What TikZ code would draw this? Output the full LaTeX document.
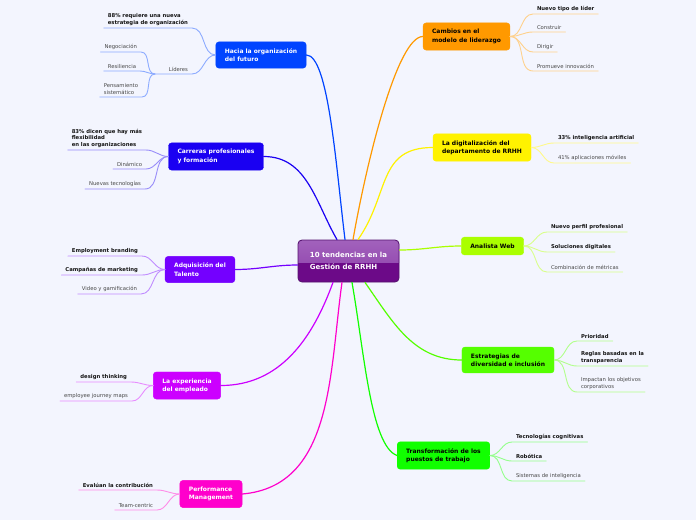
\documentclass[tikz,border=0pt]{standalone}
\usepackage{fontspec}
\setmainfont{DejaVu Sans}
\usepackage{tikz}
\usetikzlibrary{calc}
\usepackage{xcolor}
\definecolor{bg}{HTML}{F3F5FE}
\definecolor{C0}{HTML}{0044FF}
\definecolor{C1}{HTML}{1A00F2}
\definecolor{C2}{HTML}{7400FF}
\definecolor{C3}{HTML}{CC00FF}
\definecolor{C4}{HTML}{FF00CC}
\definecolor{C5}{HTML}{FF9900}
\definecolor{C6}{HTML}{FFF200}
\definecolor{C7}{HTML}{AAFF00}
\definecolor{C8}{HTML}{55FF00}
\definecolor{C9}{HTML}{11FF00}
\definecolor{RT}{HTML}{A262BC}
\definecolor{RM}{HTML}{8C3EAA}
\definecolor{RB}{HTML}{6C0A88}
\definecolor{RE}{HTML}{55136E}

\begin{document}
\begin{tikzpicture}[x=1pt,y=1pt,line cap=round]

\tikzset{
root/.style = {rounded corners=4pt, draw=RE, fill=RB, line width=0.8pt,
  minimum width=101pt, minimum height=42pt, text=white, align=left,
  font=\bfseries\fontsize{7}{12}\selectfont,
  path picture={\fill[sharp corners, top color=RT, bottom color=RM]
    (path picture bounding box.north west) rectangle ([yshift=-1pt]path picture bounding box.east);}},
topic/.style = {rounded corners=3pt, fill=#1, draw=#1, inner xsep=9pt, inner ysep=6.5pt,
  align=left, font=\bfseries\fontsize{6}{8.3}\selectfont},
leaf/.style = {inner xsep=4pt, inner ysep=2.5pt, outer sep=0pt, align=left,
  text=black!72, font=\fontsize{5.3}{6.5}\selectfont},
bleaf/.style = {leaf, text=black!92, font=\bfseries\fontsize{5.3}{6.5}\selectfont},
branch/.style = {line width=1.2pt, draw=#1},
twig/.style = {line width=0.9pt, draw=#1!45}
}

\fill[bg] (0,0) rectangle (696,-520);
\useasboundingbox (0,0) rectangle (696,-520);

% centre
\node (root) at (348.5,-261) [root] {10 tendencias en la\\Gestión de RRHH};

% left side
\node (hacia)       at (261,-55)    [topic=C0,text=white] {Hacia la organización\\del futuro};
\node (carreras)    at (216,-156.5) [topic=C1,text=white] {Carreras profesionales\\y formación};
\node (talento)     at (200,-269.5) [topic=C2,text=white] {Adquisición del\\Talento};
\node (experiencia) at (187,-385.5) [topic=C3,text=white] {La experiencia\\del empleado};
\node (performance) at (211,-494)   [topic=C4,text=white] {Performance\\Management};

% right side
\node (cambios)    at (466.5,-36.5) [topic=C5,text=black] {Cambios en el\\modelo de liderazgo};
\node (digital)    at (482,-147.5)  [topic=C6,text=black] {La digitalización del\\departamento de RRHH};
\node (web)        at (492.5,-246)  [topic=C7,text=black] {Analista Web};
\node (diversidad) at (508,-360)    [topic=C8,text=black] {Estrategias de\\diversidad e inclusión};
\node (puestos)    at (443.5,-455.5)[topic=C9,text=black] {Transformación de los\\puestos de trabajo};

\draw[branch=C0] ([xshift=-3.5pt]root.north) to [out=97,in=0,in looseness=0.3] (hacia.east);
\draw[branch=C1] ([xshift=-11.5pt]root.north) to [out=120,in=0] (carreras.east);
\draw[branch=C2] ([yshift=-4pt]root.west) to [out=180,in=0] (talento.east);
\draw[branch=C3] ([xshift=-15.5pt]root.south) to [out=250,in=0] (experiencia.east);
\draw[branch=C4] ([xshift=-6.5pt]root.south) to [out=262,in=5] (performance.east);
\draw[branch=C5] ([xshift=4.5pt]root.north) to [out=80,in=180,in looseness=0.3] (cambios.west);
\draw[branch=C6] ([xshift=9.5pt]root.north) to [out=55,in=180,looseness=1.2] (digital.west);
\draw[branch=C7] ([yshift=11pt]root.east) to [out=0,in=180] (web.west);
\draw[branch=C8] ([xshift=16.5pt]root.south) to [out=-55,in=180] (diversidad.west);
\draw[branch=C9] ([xshift=3.5pt]root.south) to [out=-80,in=160,in looseness=0.4] (puestos.west);

% leaves, left
\node (h1) [bleaf,anchor=south east] at (192,-28) {88\% requiere una nueva\\estrategia de organización};
\node (hl) [leaf,anchor=south east,text width=29pt,align=right] at (192,-74) {Líderes};
\node (n1) [leaf,anchor=south east] at (141,-52) {Negociación};
\node (n2) [leaf,anchor=south east] at (140,-71) {Resiliencia};
\node (n3) [leaf,anchor=south east] at (142,-97) {Pensamiento\\sistemático};

\node (c1) [bleaf,anchor=south east] at (146,-150) {83\% dicen que hay más\\flexibilidad\\en las organizaciones};
\node (c2) [leaf,anchor=south east] at (146,-169) {Dinámico};
\node (c3) [leaf,anchor=south east] at (145,-189) {Nuevas tecnologías};

\node (a1) [bleaf,anchor=south east] at (142,-256) {Employment branding};
\node (a2) [bleaf,anchor=south east] at (142,-275) {Campañas de marketing};
\node (a3) [leaf,anchor=south east] at (141,-294) {Video y gamificación};

\node (e1) [bleaf,anchor=south east] at (131,-382) {design thinking};
\node (e2) [leaf,anchor=south east] at (132,-401) {employee journey maps};

\node (p1) [bleaf,anchor=south east] at (157,-490) {Evalúan la contribución};
\node (p2) [leaf,anchor=south east] at (157,-510) {Team-centric};

\draw[twig=C0] (hacia.west) to [out=180,in=0] (h1.south east) -- (h1.south west);
\draw[twig=C0] (hacia.west) to [out=180,in=0] (hl.south east) -- (hl.south west);
\foreach \n in {n1,n2,n3}
  \draw[twig=C0] (hl.south west) to [out=180,in=0] (\n.south east) -- (\n.south west);
\foreach \n in {c1,c2,c3}
  \draw[twig=C1] (carreras.west) to [out=180,in=0] (\n.south east) -- (\n.south west);
\foreach \n in {a1,a2,a3}
  \draw[twig=C2] (talento.west) to [out=180,in=0] (\n.south east) -- (\n.south west);
\foreach \n in {e1,e2}
  \draw[twig=C3] (experiencia.west) to [out=180,in=0] (\n.south east) -- (\n.south west);
\foreach \n in {p1,p2}
  \draw[twig=C4] (performance.west) to [out=180,in=0] (\n.south east) -- (\n.south west);

% leaves, right
\node (m1) [bleaf,anchor=south west] at (533,-14) {Nuevo tipo de líder};
\node (m2) [leaf,anchor=south west] at (533,-32) {Construir};
\node (m3) [leaf,anchor=south west] at (533,-52) {Dirigir};
\node (m4) [leaf,anchor=south west] at (533,-71) {Promueve innovación};

\node (d1) [bleaf,anchor=south west] at (554,-143) {33\% inteligencia artificial};
\node (d2) [leaf,anchor=south west] at (554,-163) {41\% aplicaciones móviles};

\node (w1) [bleaf,anchor=south west] at (547,-232) {Nuevo perfil profesional};
\node (w2) [bleaf,anchor=south west] at (547,-252) {Soluciones digitales};
\node (w3) [leaf,anchor=south west] at (547,-272) {Combinación de métricas};

\node (s1) [bleaf,anchor=south west] at (577,-341) {Prioridad};
\node (s2) [bleaf,anchor=south west] at (577,-366) {Reglas basadas en la\\transparencia};
\node (s3) [leaf,anchor=south west] at (577,-392) {Impactan los objetivos\\corporativos};

\node (t1) [bleaf,anchor=south west] at (512,-442) {Tecnologías cognitivas};
\node (t2) [bleaf,anchor=south west] at (512,-461) {Robótica};
\node (t3) [leaf,anchor=south west] at (512,-481) {Sistemas de inteligencia};

\foreach \n in {m1,m2,m3,m4}
  \draw[twig=C5] (cambios.east) to [out=0,in=180] (\n.south west) -- (\n.south east);
\foreach \n in {d1,d2}
  \draw[twig=C6] (digital.east) to [out=0,in=180] (\n.south west) -- (\n.south east);
\foreach \n in {w1,w2,w3}
  \draw[twig=C7] (web.east) to [out=0,in=180] (\n.south west) -- (\n.south east);
\foreach \n in {s1,s2,s3}
  \draw[twig=C8] (diversidad.east) to [out=0,in=180] (\n.south west) -- (\n.south east);
\foreach \n in {t1,t2,t3}
  \draw[twig=C9] (puestos.east) to [out=0,in=180] (\n.south west) -- (\n.south east);

\end{tikzpicture}
\end{document}
